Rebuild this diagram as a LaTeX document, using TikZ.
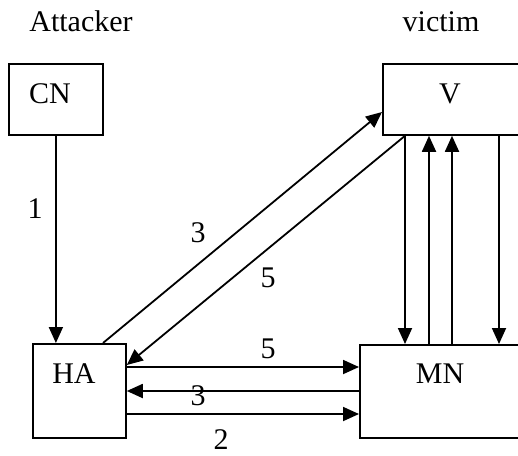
\documentclass[tikz,border=0pt]{standalone}
\usepackage{fontspec}
\setmainfont{Liberation Serif}
\usetikzlibrary{arrows.meta,calc}

\tikzset{
  box/.style={draw, line width=0.9pt, inner sep=0pt, anchor=north west},
  txt/.style={anchor=base, inner sep=0pt, font=\fontsize{15}{18}\selectfont},
  link/.style={line width=0.9pt},
  arr/.style={link, -{Triangle[length=8pt,width=7pt]}}
}

\begin{document}
\begin{tikzpicture}[x=0.5pt, y=-0.5pt]
  \useasboundingbox (0,0) rectangle (518,455);

  % headings
  \node[txt] (att) at (81,32) {Attacker};
  \node[txt] (vic) at (441,32) {victim};

  % boxes (the two on the right run past the edge)
  \node[box, minimum width=47pt, minimum height=35.5pt] (CN) at (8,63) {};
  \node[box, minimum width=80pt, minimum height=35.5pt] (V) at (382,63) {};
  \node[box, minimum width=46.5pt, minimum height=47pt] (HA) at (32,343) {};
  \node[box, minimum width=81pt, minimum height=46.5pt] (MN) at (359,344) {};

  % box captions
  \node[txt] (CNt) at (50,103) {CN};
  \node[txt] (Vt) at (450,103) {V};
  \node[txt] (HAt) at (74,383) {HA};
  \node[txt] (MNt) at (440,383) {MN};

  % CN to HA
  \draw[arr] (CN.south) -- (CN.south |- HA.north);

  % diagonals between HA and V
  \draw[arr] ($(HA.north west)+(71,0)$) -- ($(V.north west)+(0,49)$);
  \draw[arr] ($(V.south west)+(23,0)$) -- ($(HA.north east)+(0,22)$);

  % verticals between V and MN
  \coordinate (v1) at ($(V.south west)+(23,0)$);
  \coordinate (v2) at ($(V.south west)+(47,0)$);
  \coordinate (v3) at ($(V.south west)+(70,0)$);
  \coordinate (v4) at ($(V.south west)+(117,0)$);
  \draw[arr] (v1) -- (v1 |- MN.north);
  \draw[arr] (v2 |- MN.north) -- (v2);
  \draw[arr] (v3 |- MN.north) -- (v3);
  \draw[arr] (v4) -- (v4 |- MN.north);

  % horizontals between HA and MN
  \coordinate (h1) at ($(HA.north east)+(0,24)$);
  \coordinate (h2) at ($(HA.north east)+(0,48)$);
  \coordinate (h3) at ($(HA.north east)+(0,71)$);
  \draw[arr] (h1) -- (h1 -| MN.west);
  \draw[arr] (h2 -| MN.west) -- (h2);
  \draw[arr] (h3) -- (h3 -| MN.west);

  % step numbers
  \node[txt] (n1) at (35,218) {1};
  \node[txt] (n3a) at (198,242) {3};
  \node[txt] (n5a) at (268,287) {5};
  \node[txt] (n5b) at (268,358) {5};
  \node[txt] (n3b) at (198,405) {3};
  \node[txt] (n2) at (221,449) {2};
\end{tikzpicture}
\end{document}
